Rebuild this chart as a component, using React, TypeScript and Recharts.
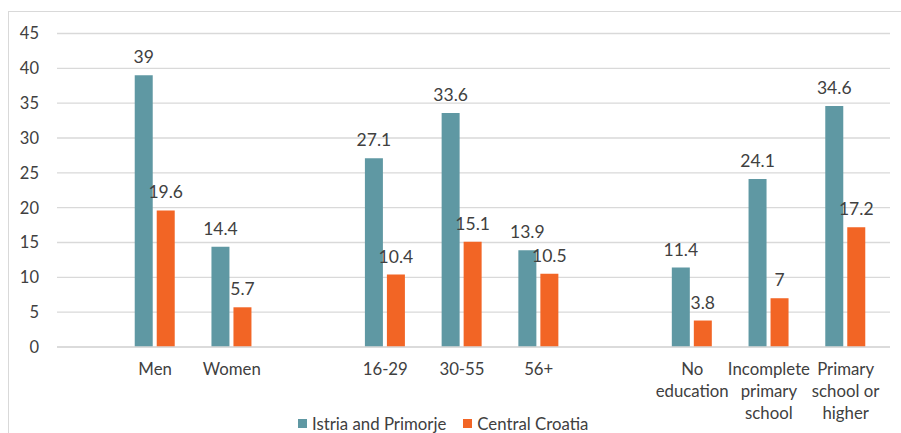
import React from 'react';
import { BarChart, Bar, XAxis, YAxis, CartesianGrid, Legend, LabelList } from 'recharts';

// blank entries keep the gaps between the groups
const categories = ['', 'Men', 'Women', '', '16-29', '30-55', '56+', '', 'No education', 'Incomplete primary school', 'Primary school or higher'];
const istria = [null, 39, 14.4, null, 27.1, 33.6, 13.9, null, 11.4, 24.1, 34.6];
const central = [null, 19.6, 5.7, null, 10.4, 15.1, 10.5, null, 3.8, 7, 17.2];
const yTicks = [0, 5, 10, 15, 20, 25, 30, 35, 40, 45];

// how the long labels wrap under the axis
const tickLines: Record<string, string[]> = {
  'No education': ['No', 'education'],
  'Incomplete primary school': ['Incomplete', 'primary', 'school'],
  'Primary school or higher': ['Primary', 'school or', 'higher'],
};

const data = categories.map((name, i) => ({ name, istria: istria[i], central: central[i] }));

const FONT = 'Lato, "Open Sans", sans-serif';
const TEXT = '#404040';
const TEAL = '#5F98A3';
const ORANGE = '#F26525';

const CategoryTick = (props: any) => {
  const { x, y, payload } = props;
  const label: string = payload.value;
  const lines = tickLines[label] || [label];
  return (
    <text x={x} y={y + 28} textAnchor="middle" fill={TEXT} fontSize={16.8} fontFamily={FONT}>
      {lines.map((l, i) => (
        <tspan key={i} x={x} dy={i === 0 ? 0 : 22}>{l}</tspan>
      ))}
    </text>
  );
};

const LegendContent = () => (
  <div style={{ height: 20, display: 'flex', alignItems: 'center', paddingLeft: 289, fontFamily: FONT, fontSize: 16.8, color: TEXT }}>
    <span style={{ width: 9, height: 9, background: TEAL, display: 'inline-block', marginRight: 5 }} />
    <span>Istria and Primorje</span>
    <span style={{ width: 9, height: 9, background: ORANGE, display: 'inline-block', marginLeft: 17, marginRight: 5 }} />
    <span>Central Croatia</span>
  </div>
);

export default function App() {
  return (
    <>
      <style>{'body{margin:0;overflow:hidden;background:#fff}'}</style>
      <div style={{ margin: '11px 0 0 8px', width: 893, height: 422, borderTop: '1px solid #d9d9d9', borderLeft: '1px solid #d9d9d9' }}>
        <BarChart width={893} height={422} data={data} margin={{ top: 21.5, right: 12, bottom: 7, left: 0 }} barGap={4} barSize={18}>
          <CartesianGrid vertical={false} stroke="#d9d9d9" strokeWidth={1.3} />
          <XAxis
            dataKey="name"
            interval={0}
            tickLine={false}
            tickSize={0}
            tickMargin={0}
            axisLine={{ stroke: '#d9d9d9', strokeWidth: 1.3 }}
            height={60}
            padding={{ left: -17, right: 6 }}
            tick={<CategoryTick />}
          />
          <YAxis
            domain={[0, 45]}
            ticks={yTicks}
            width={48}
            axisLine={false}
            tickLine={false}
            tickSize={0}
            tickMargin={18}
            tick={{ fill: TEXT, fontSize: 16.5, fontFamily: FONT }}
          />
          <Legend verticalAlign="bottom" content={<LegendContent />} wrapperStyle={{ position: 'absolute', left: 0, top: 401, width: 893, height: 20 }} />
          <Bar dataKey="istria" name="Istria and Primorje" fill={TEAL} isAnimationActive={false}>
            <LabelList dataKey="istria" position="top" offset={12} fill={TEXT} fontSize={17.5} fontFamily={FONT} />
          </Bar>
          <Bar dataKey="central" name="Central Croatia" fill={ORANGE} isAnimationActive={false}>
            <LabelList dataKey="central" position="top" offset={12} fill={TEXT} fontSize={17.5} fontFamily={FONT} />
          </Bar>
        </BarChart>
      </div>
    </>
  );
}
